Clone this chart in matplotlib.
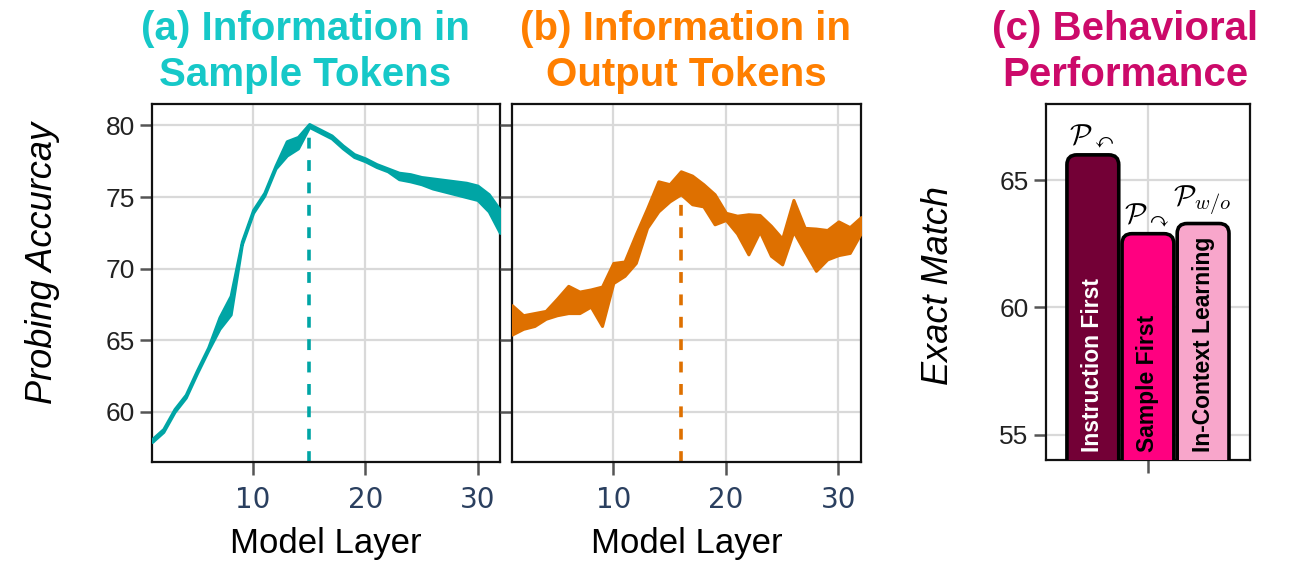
import matplotlib.pyplot as plt
from matplotlib.patches import FancyBboxPatch
import numpy as np

plt.rcParams['font.family'] = ['Liberation Sans', 'DejaVu Sans']
plt.rcParams['mathtext.fontset'] = 'cm'

# ---- data ----
layers = list(range(1, 33))

# (a) probing accuracy, sample tokens (band lower / upper)
sample_lo = [57.9, 58.6, 60.0, 61.0, 62.7, 64.3, 65.8, 66.8, 71.7, 73.9, 75.1,
             77.0, 77.9, 78.4, 79.9, 79.5, 79.1, 78.4, 77.8, 77.5, 77.1, 76.8,
             76.25, 76.1, 75.9, 75.6, 75.4, 75.2, 75.0, 74.8, 74.0, 72.5]
sample_hi = [58.1, 58.8, 60.2, 61.2, 62.9, 64.5, 66.6, 68.1, 71.9, 74.1, 75.3,
             77.2, 78.9, 79.2, 80.1, 79.7, 79.3, 78.6, 78.0, 77.7, 77.3, 77.0,
             76.7, 76.6, 76.4, 76.3, 76.2, 76.1, 76.0, 75.8, 75.2, 74.1]

# (b) probing accuracy, output tokens (band lower / upper)
output_lo = [65.4, 65.8, 66.0, 66.5, 66.75, 66.9, 66.9, 67.35, 66.0, 69.0, 69.5,
             70.4, 72.85, 74.0, 74.7, 75.2, 74.5, 74.35, 73.1, 73.4, 72.45, 71.0,
             72.6, 70.9, 70.3, 72.6, 71.2, 69.85, 70.65, 70.95, 71.1, 72.5]
output_hi = [67.45, 66.75, 66.9, 67.05, 67.9, 68.8, 68.4, 68.55, 68.75, 70.4, 70.5,
             72.4, 74.2, 76.1, 75.9, 76.8, 76.5, 75.9, 75.2, 73.9, 73.7, 73.8,
             73.75, 73.0, 72.1, 74.8, 72.85, 72.8, 72.7, 73.3, 72.9, 73.6]

best_sample_layer = 15
best_output_layer = 16

# (c) behavioural performance
methods = ['Instruction First', 'Sample First', 'In-Context Learning']
exact_match = [66.0, 62.9, 63.3]
method_tags = [r'$\mathcal{P}_{\curvearrowleft}$', r'$\mathcal{P}_{\curvearrowright}$',
               r'$\mathcal{P}_{w/o}$']

# ---- styles ----
teal = '#00a5a5'
orange = '#de7000'
bar_colors = ['#730036', '#ff0080', '#f8a6cb']
label_colors = ['white', 'black', 'black']
grid_c = '#d9d9d9'
tick_c = '#2a3f5f'

fig = plt.figure(figsize=(13, 5.82), dpi=100)
ax_a = fig.add_axes([0.117, 0.2062, 0.2676, 0.6151])
ax_b = fig.add_axes([0.3938, 0.2062, 0.2685, 0.6151])
ax_c = fig.add_axes([0.8046, 0.2096, 0.1569, 0.6117])


def style_axis(ax):
    for s in ax.spines.values():
        s.set_linewidth(1.6)
        s.set_color('#111111')
    ax.grid(True, color=grid_c, linewidth=1.6)
    ax.set_axisbelow(True)
    ax.tick_params(direction='out', length=9, width=1.8, color='#555555')


for ax, lo, hi, col, best in [(ax_a, sample_lo, sample_hi, teal, best_sample_layer),
                              (ax_b, output_lo, output_hi, orange, best_output_layer)]:
    style_axis(ax)
    lo = np.array(lo)
    hi = np.array(hi)
    peak = (lo[best - 1] + hi[best - 1]) / 2
    ax.plot([best, best], [56.5, peak], color=col, lw=2.6, ls=(0, (3, 3.2)), zorder=2)
    ax.fill_between(layers, lo, hi, color=col, edgecolor=col, lw=2.2, zorder=3)
    ax.set_xlim(1, 32)
    ax.set_ylim(56.5, 81.5)
    ax.set_xticks([10, 20, 30])
    ax.set_yticks([60, 65, 70, 75, 80])
    ax.tick_params(axis='x', labelsize=20, labelcolor=tick_c, pad=8)
    for t in ax.get_xticklabels():
        t.set_fontfamily('DejaVu Sans')
    ax.set_xlabel('Model Layer', fontsize=25, labelpad=10)

ax_a.tick_params(axis='y', labelsize=19, labelcolor='#222222')
ax_a.set_ylabel('Probing Accurcay', fontsize=26, style='italic')
ax_a.yaxis.set_label_coords(-0.265, 0.556)
ax_b.tick_params(axis='y', labelleft=False)

# ---- (c) bars ----
style_axis(ax_c)
xs = np.arange(len(methods)) - 1
ax_c.set_xlim(-1.85, 1.85)
ax_c.set_ylim(54, 68)
ax_c.set_xticks([0])
ax_c.set_xticklabels([''])
ax_c.set_yticks([55, 60, 65])
ax_c.tick_params(axis='y', labelsize=19, labelcolor='#222222')
ax_c.set_ylabel('Exact Match', fontsize=26, style='italic')
ax_c.yaxis.set_label_coords(-0.44, 0.49)
bw = 0.94
for x, v, c, name, lc, tag in zip(xs, exact_match, bar_colors, methods, label_colors, method_tags):
    patch = FancyBboxPatch((x - bw / 2, 50), bw, v - 50,
                           boxstyle='round,pad=0,rounding_size=0.18',
                           mutation_aspect=14 / 3.7 * 204 / 356,
                           facecolor=c, edgecolor='black', lw=2.6, zorder=3)
    ax_c.add_patch(patch)
    ax_c.text(x, 54.3, name, rotation=90, ha='center', va='bottom',
              fontsize=16.5, fontweight='bold', color=lc, zorder=4)
    ax_c.text(x - 0.02, v + 0.2, tag, ha='center', va='bottom', fontsize=21, zorder=4)

# ---- titles ----
title_kw = dict(ha='center', va='center', fontsize=29, fontweight='bold', linespacing=1.3)
fig.text(305 / 1300, 1 - 52 / 582, '(a) Information in\nSample Tokens', color='#16c8c8', **title_kw)
fig.text(686 / 1300, 1 - 52 / 582, '(b) Information in\nOutput Tokens', color='#ff7f00', **title_kw)
fig.text(1125 / 1300, 1 - 52 / 582, '(c) Behavioral\nPerformance', color='#cc0a6a', **title_kw)

fig.savefig('out.png', dpi=100)
